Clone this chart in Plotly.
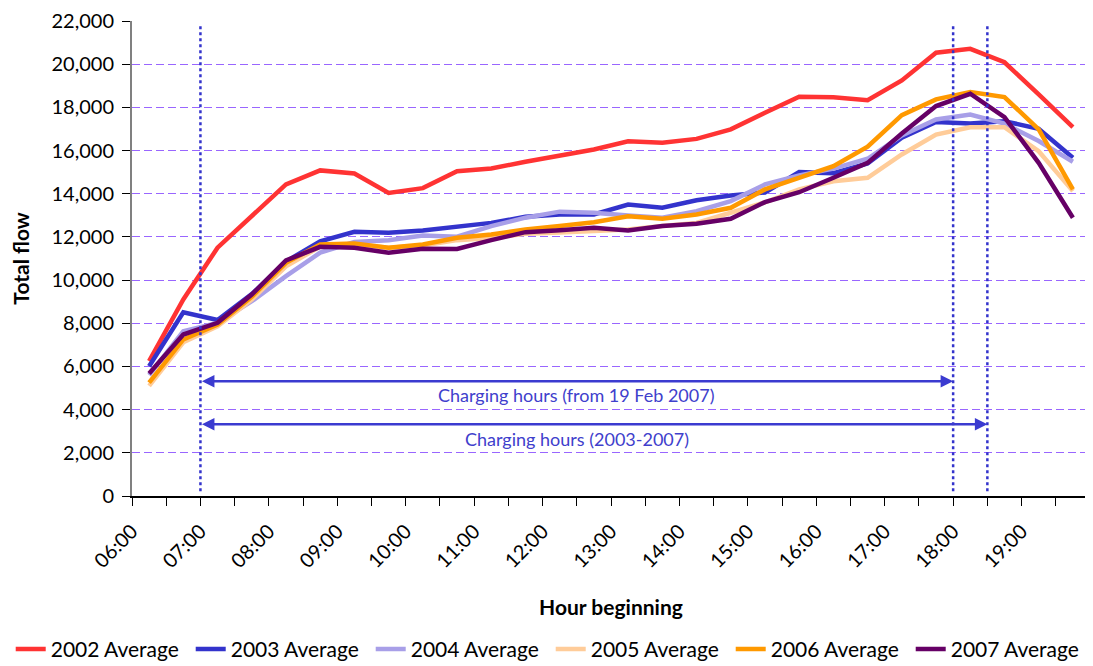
import plotly.graph_objects as go

# Half-hour periods (hour beginning), 06:00 .. 19:30
periods = ["06:00", "06:30", "07:00", "07:30", "08:00", "08:30", "09:00", "09:30",
           "10:00", "10:30", "11:00", "11:30", "12:00", "12:30", "13:00", "13:30",
           "14:00", "14:30", "15:00", "15:30", "16:00", "16:30", "17:00", "17:30",
           "18:00", "18:30", "19:00", "19:30"]

y2002 = [6250, 9100, 11500, 12950, 14430, 15080, 14940, 14040, 14260, 15040, 15170, 15480, 15790, 16050,
         16430, 16360, 16540, 16980, 17750, 18490, 18470, 18330, 19250, 20530, 20710, 20090, 18600, 17080]
y2003 = [6010, 8510, 8150, 9350, 10860, 11800, 12240, 12190, 12300, 12500, 12650, 12930, 13040, 13040,
         13500, 13350, 13700, 13920, 14060, 15000, 14950, 15400, 16590, 17320, 17250, 17360, 17010, 15670]
y2004 = [5600, 7630, 8020, 9020, 10180, 11270, 11760, 11850, 12070, 12010, 12500, 12890, 13170, 13120,
         12990, 12890, 13190, 13660, 14430, 14850, 15160, 15620, 16700, 17440, 17670, 17250, 16440, 15480]
y2005 = [5100, 7120, 7860, 9100, 10640, 11550, 11650, 11500, 11600, 11850, 11950, 12150, 12200, 12250,
         12340, 12500, 12650, 13120, 13600, 14200, 14580, 14740, 15820, 16740, 17080, 17080, 15970, 14120]
y2006 = [5250, 7250, 7940, 9230, 10800, 11650, 11700, 11500, 11650, 11960, 12110, 12340, 12500, 12680,
         12960, 12840, 13040, 13350, 14200, 14740, 15280, 16180, 17640, 18370, 18710, 18480, 16980, 14200]
y2007 = [5670, 7480, 8020, 9330, 10910, 11540, 11500, 11270, 11450, 11440, 11850, 12220, 12310, 12420,
         12300, 12500, 12610, 12840, 13610, 14070, 14740, 15430, 16790, 18060, 18630, 17550, 15430, 12890]

series_names = ["2002 Average", "2003 Average", "2004 Average", "2005 Average", "2006 Average", "2007 Average"]
series_values = [y2002, y2003, y2004, y2005, y2006, y2007]
series_colors = ["#FF3333", "#3333CC", "#A89FE8", "#FFCC99", "#FF9900", "#660066"]

hour_labels = ["06:00", "07:00", "08:00", "09:00", "10:00", "11:00", "12:00",
               "13:00", "14:00", "15:00", "16:00", "17:00", "18:00", "19:00"]

# charging periods
charge_start = "07:00"
charge_end_2007 = "18:00"
charge_end_old = "18:30"
label_2007 = "Charging hours (from 19 Feb 2007)"
label_old = "Charging hours (2003-2007)"


def to_hours(t):
    h, m = t.split(":")
    return int(h) + int(m) / 60.0


# each half-hour period plotted at its centre
x_vals = [to_hours(p) + 0.25 for p in periods]

FONT = "Lato"
fig = go.Figure()
for name, vals, col in zip(series_names, series_values, series_colors):
    fig.add_trace(go.Scatter(x=x_vals, y=vals, mode="lines", name=name,
                             line=dict(color=col, width=4.5)))

tick_vals = [to_hours(h) for h in hour_labels] + [20]
tick_text = hour_labels + [""]

# vertical dotted lines
for t in [charge_start, charge_end_2007, charge_end_old]:
    fig.add_shape(type="line", xref="x", yref="y", x0=to_hours(t), x1=to_hours(t),
                  y0=220, y1=21850, line=dict(color="#3333CC", width=2.5, dash="dot"))

# double-headed arrows
arrow_color = "#3B3BD0"
for t_end, yv in [(charge_end_2007, 5320), (charge_end_old, 3320)]:
    fig.add_annotation(x=to_hours(t_end), y=yv, ax=to_hours(charge_start), ay=yv,
                       xref="x", yref="y", axref="x", ayref="y", text="",
                       showarrow=True, arrowhead=2, arrowside="end+start",
                       arrowsize=1.0, arrowwidth=2.5, arrowcolor=arrow_color,
                       standoff=0, startstandoff=0)

mid = (to_hours(charge_start) + to_hours(charge_end_2007)) / 2
fig.add_annotation(x=mid, y=4700, xref="x", yref="y", text=label_2007, showarrow=False,
                   font=dict(family=FONT, size=18, color="#4040CC"))
fig.add_annotation(x=mid, y=2620, xref="x", yref="y", text=label_old, showarrow=False,
                   font=dict(family=FONT, size=18, color="#4040CC"))

# page body has an 8px margin, so the figure is sized to fit inside the window
fig.update_layout(
    width=1085, height=658,
    margin=dict(l=124, r=3, t=13, b=169.5, autoexpand=False),
    paper_bgcolor="white", plot_bgcolor="white",
    font=dict(family=FONT, size=20, color="black"),
    showlegend=True,
    legend=dict(orientation="h", x=-0.1266, xanchor="left", y=-0.3228, yanchor="middle",
                font=dict(family=FONT, size=21, color="black"), itemwidth=30,
                entrywidth=135, entrywidthmode="pixels", tracegroupgap=0),
    xaxis=dict(
        range=[6, 20], tickmode="array", tickvals=tick_vals, ticktext=tick_text,
        tickangle=-45, ticks="outside", ticklen=8, tickcolor="black", tickwidth=1,
        showline=True, linecolor="black", linewidth=1.5, showgrid=False, zeroline=False,
        tickfont=dict(family=FONT, size=20, color="black"), ticklabelstandoff=6,
        minor=dict(ticks="outside", ticklen=8, tickcolor="black", dtick=0.5, tick0=6, showgrid=False),
        title=dict(text="<b>Hour beginning</b>", font=dict(family=FONT, size=21, color="black"), standoff=29),
        automargin=False, fixedrange=True,
    ),
    yaxis=dict(
        range=[0, 22000], dtick=2000, tickformat=",d",
        ticks="outside", ticklen=8, tickcolor="black", tickwidth=1,
        showline=True, linecolor="#808080", linewidth=2,
        showgrid=True, gridcolor="#9966FF", griddash="8px,4px", gridwidth=1,
        zeroline=False, ticklabelstandoff=4,
        tickfont=dict(family=FONT, size=20, color="black"),
        title=dict(text="<b>Total flow</b>", font=dict(family=FONT, size=21, color="black"), standoff=18),
        automargin=False, fixedrange=True,
    ),
)

fig.write_html("out.html")
